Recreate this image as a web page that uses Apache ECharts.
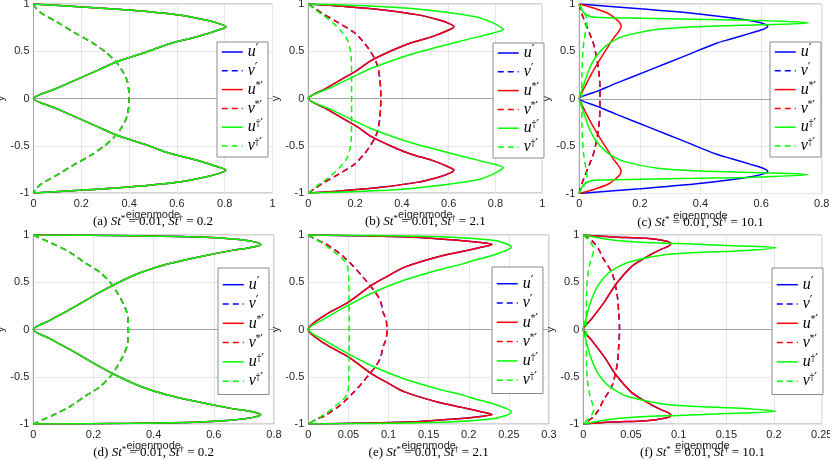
<!DOCTYPE html>
<html><head><meta charset="utf-8">
<script src="https://cdn.jsdelivr.net/npm/echarts@6/dist/echarts.min.js"></script>
<style>html,body{margin:0;padding:0;background:#fff}#c{width:830px;height:461px}</style>
</head><body><div id="c"></div>
<script>
// ---------- data ----------
const seriesNames = ['u′','v′','u*′','v*′','u†′','v†′'];
const seriesColors = ['#0000ff','#0000ff','#ff0000','#ff0000','#00ff00','#00ff00'];
const seriesDashed = [false,true,false,true,false,true];
const captionLetters = ['(a)','(b)','(c)','(d)','(e)','(f)'];
const stStar = ['0.01','0.01','0.01','0.01','0.01','0.01'];
const stDagger = ['0.2','2.1','10.1','0.2','2.1','10.1'];
const xMax = [1,1,0.8,0.8,0.3,0.25];
const xInterval = [0.2,0.2,0.2,0.2,0.05,0.05];
const yMin = -1, yMax = 1, yInterval = 0.5;

const A_u = [[0,1],[0.19,0.972],[0.4,0.936],[0.61,0.883],[0.72,0.83],[0.78,0.79],[0.805,0.76],[0.78,0.73],[0.68,0.65],[0.57,0.58],[0.47,0.49],[0.346,0.387],[0.27,0.3],[0.18,0.2],[0.09,0.1],[0,0],[0.09,-0.1],[0.18,-0.2],[0.27,-0.3],[0.346,-0.387],[0.47,-0.49],[0.57,-0.58],[0.68,-0.65],[0.78,-0.73],[0.805,-0.76],[0.78,-0.79],[0.72,-0.83],[0.61,-0.883],[0.4,-0.936],[0.19,-0.972],[0,-1]];
const A_v = [[0,1],[0.012,0.95],[0.035,0.9],[0.105,0.8],[0.17,0.7],[0.24,0.6],[0.297,0.5],[0.345,0.39],[0.37,0.3],[0.39,0.2],[0.398,0.1],[0.4,0],[0.398,-0.1],[0.39,-0.2],[0.37,-0.3],[0.345,-0.39],[0.297,-0.5],[0.24,-0.6],[0.17,-0.7],[0.105,-0.8],[0.035,-0.9],[0.012,-0.95],[0,-1]];

const B_r = [[0,1],[0.15,0.975],[0.31,0.94],[0.47,0.885],[0.56,0.83],[0.605,0.79],[0.622,0.76],[0.605,0.73],[0.53,0.655],[0.44,0.59],[0.36,0.51],[0.268,0.4],[0.21,0.3],[0.14,0.2],[0.07,0.1],[0,0],[0.07,-0.1],[0.14,-0.2],[0.21,-0.3],[0.268,-0.4],[0.36,-0.51],[0.44,-0.59],[0.53,-0.655],[0.605,-0.73],[0.622,-0.76],[0.605,-0.79],[0.56,-0.83],[0.47,-0.885],[0.31,-0.94],[0.15,-0.975],[0,-1]];
const B_g = [[0,1],[0.143,0.99],[0.43,0.954],[0.714,0.866],[0.79,0.8],[0.825,0.75],[0.833,0.73],[0.815,0.71],[0.786,0.69],[0.64,0.6],[0.43,0.46],[0.27,0.32],[0.193,0.232],[0.1,0.12],[0,0],[0.1,-0.12],[0.193,-0.232],[0.27,-0.32],[0.43,-0.46],[0.64,-0.6],[0.786,-0.69],[0.815,-0.71],[0.833,-0.73],[0.825,-0.75],[0.79,-0.8],[0.714,-0.866],[0.43,-0.954],[0.143,-0.99],[0,-1]];
const B_rv = [[0,1],[0.03,0.95],[0.06,0.9],[0.13,0.8],[0.195,0.7],[0.235,0.6],[0.265,0.5],[0.288,0.4],[0.3,0.3],[0.306,0.2],[0.309,0.1],[0.31,0],[0.309,-0.1],[0.306,-0.2],[0.3,-0.3],[0.288,-0.4],[0.265,-0.5],[0.235,-0.6],[0.195,-0.7],[0.13,-0.8],[0.06,-0.9],[0.03,-0.95],[0,-1]];
const B_gv = [[0,1],[0.035,0.93],[0.071,0.866],[0.105,0.8],[0.136,0.725],[0.164,0.637],[0.179,0.52],[0.184,0.4],[0.185,0.2],[0.185,0],[0.185,-0.2],[0.184,-0.4],[0.179,-0.52],[0.164,-0.637],[0.136,-0.725],[0.105,-0.8],[0.071,-0.866],[0.035,-0.93],[0,-1]];

const C_b = [[0,1],[0.2,0.95],[0.38,0.9],[0.5,0.855],[0.58,0.815],[0.61,0.79],[0.622,0.765],[0.615,0.745],[0.6,0.725],[0.563,0.69],[0.5,0.63],[0.453,0.586],[0.343,0.445],[0.233,0.305],[0.123,0.165],[0.06,0.08],[0,0],[0.06,-0.08],[0.123,-0.165],[0.233,-0.305],[0.343,-0.445],[0.453,-0.586],[0.5,-0.63],[0.563,-0.69],[0.6,-0.725],[0.615,-0.745],[0.622,-0.765],[0.61,-0.79],[0.58,-0.815],[0.5,-0.855],[0.38,-0.9],[0.2,-0.95],[0,-1]];
const C_r = [[0,1],[0.05,0.955],[0.096,0.9],[0.125,0.83],[0.135,0.795],[0.138,0.765],[0.134,0.73],[0.123,0.68],[0.113,0.64],[0.095,0.55],[0.075,0.45],[0.056,0.35],[0.038,0.25],[0.022,0.15],[0.008,0.06],[0,0],[0.008,-0.06],[0.022,-0.15],[0.038,-0.25],[0.056,-0.35],[0.075,-0.45],[0.095,-0.55],[0.113,-0.64],[0.123,-0.68],[0.134,-0.73],[0.138,-0.765],[0.135,-0.795],[0.125,-0.83],[0.096,-0.9],[0.05,-0.955],[0,-1]];
const C_g = [[0,1],[0.008,0.937],[0.024,0.884],[0.052,0.86],[0.206,0.85],[0.382,0.84],[0.6,0.825],[0.756,0.8],[0.6,0.78],[0.382,0.76],[0.26,0.733],[0.184,0.69],[0.129,0.64],[0.085,0.55],[0.052,0.43],[0.03,0.29],[0.013,0.13],[0,0],[0.013,-0.13],[0.03,-0.29],[0.052,-0.43],[0.085,-0.55],[0.129,-0.64],[0.184,-0.69],[0.26,-0.733],[0.382,-0.76],[0.6,-0.78],[0.756,-0.8],[0.6,-0.825],[0.382,-0.84],[0.206,-0.85],[0.052,-0.86],[0.024,-0.884],[0.008,-0.937],[0,-1]];
const C_rv = [[0,1],[0.003,0.95],[0.008,0.9],[0.02,0.8],[0.035,0.68],[0.045,0.6],[0.053,0.5],[0.059,0.4],[0.064,0.3],[0.067,0.2],[0.068,0.1],[0.068,0],[0.068,-0.1],[0.067,-0.2],[0.064,-0.3],[0.059,-0.4],[0.053,-0.5],[0.045,-0.6],[0.035,-0.68],[0.02,-0.8],[0.008,-0.9],[0.003,-0.95],[0,-1]];
const C_gv = [[0,1],[0.008,0.95],[0.018,0.9],[0.024,0.85],[0.025,0.8],[0.02,0.7],[0.015,0.6],[0.012,0.5],[0.009,0.3],[0.008,0],[0.009,-0.3],[0.012,-0.5],[0.015,-0.6],[0.02,-0.7],[0.025,-0.8],[0.024,-0.85],[0.018,-0.9],[0.008,-0.95],[0,-1]];

const D_u = [[0,1],[0.332,0.993],[0.554,0.979],[0.665,0.957],[0.731,0.93],[0.756,0.9],[0.735,0.875],[0.7,0.855],[0.665,0.84],[0.554,0.77],[0.443,0.69],[0.355,0.6],[0.285,0.5],[0.225,0.4],[0.17,0.3],[0.115,0.2],[0.057,0.1],[0,0],[0.057,-0.1],[0.115,-0.2],[0.17,-0.3],[0.225,-0.4],[0.285,-0.5],[0.355,-0.6],[0.443,-0.69],[0.554,-0.77],[0.665,-0.84],[0.7,-0.855],[0.735,-0.875],[0.756,-0.9],[0.731,-0.93],[0.665,-0.957],[0.554,-0.979],[0.332,-0.993],[0,-1]];
const D_v = [[0,1],[0.035,0.95],[0.07,0.9],[0.12,0.82],[0.175,0.7],[0.22,0.61],[0.255,0.5],[0.277,0.4],[0.295,0.3],[0.31,0.19],[0.315,0.1],[0.316,0],[0.315,-0.1],[0.31,-0.19],[0.295,-0.3],[0.277,-0.4],[0.255,-0.5],[0.22,-0.61],[0.175,-0.7],[0.12,-0.82],[0.07,-0.9],[0.035,-0.95],[0,-1]];

const E_r = [[0,1],[0.125,0.98],[0.183,0.947],[0.215,0.92],[0.229,0.9],[0.215,0.87],[0.195,0.83],[0.162,0.77],[0.12,0.66],[0.1,0.57],[0.079,0.47],[0.05,0.29],[0.021,0.152],[0,0],[0.021,-0.152],[0.05,-0.29],[0.079,-0.47],[0.1,-0.57],[0.12,-0.66],[0.162,-0.77],[0.195,-0.83],[0.215,-0.87],[0.229,-0.9],[0.215,-0.92],[0.183,-0.947],[0.125,-0.98],[0,-1]];
const E_g = [[0,1],[0.166,0.982],[0.228,0.947],[0.246,0.91],[0.253,0.87],[0.245,0.83],[0.228,0.78],[0.208,0.735],[0.195,0.7],[0.162,0.63],[0.12,0.523],[0.083,0.4],[0.05,0.258],[0.021,0.117],[0,0],[0.021,-0.117],[0.05,-0.258],[0.083,-0.4],[0.12,-0.523],[0.162,-0.63],[0.195,-0.7],[0.208,-0.735],[0.228,-0.78],[0.245,-0.83],[0.253,-0.87],[0.246,-0.91],[0.228,-0.947],[0.166,-0.982],[0,-1]];
const E_rv = [[0,1],[0.01,0.95],[0.021,0.91],[0.04,0.8],[0.046,0.753],[0.056,0.67],[0.066,0.576],[0.083,0.4],[0.09,0.3],[0.093,0.187],[0.097,0.1],[0.098,0],[0.097,-0.1],[0.093,-0.187],[0.09,-0.3],[0.083,-0.4],[0.066,-0.576],[0.056,-0.67],[0.046,-0.753],[0.04,-0.8],[0.021,-0.91],[0.01,-0.95],[0,-1]];
const E_gv = [[0,1],[0.01,0.95],[0.021,0.894],[0.037,0.788],[0.046,0.717],[0.049,0.66],[0.05,0.611],[0.0505,0.5],[0.051,0],[0.0505,-0.5],[0.05,-0.611],[0.049,-0.66],[0.046,-0.717],[0.037,-0.788],[0.021,-0.894],[0.01,-0.95],[0,-1]];

const F_r = [[0,1],[0.03,0.98],[0.066,0.965],[0.085,0.94],[0.092,0.91],[0.089,0.88],[0.082,0.85],[0.072,0.8],[0.06,0.73],[0.05,0.66],[0.035,0.49],[0.022,0.29],[0.009,0.116],[0,0],[0.009,-0.116],[0.022,-0.29],[0.035,-0.49],[0.05,-0.66],[0.06,-0.73],[0.072,-0.8],[0.082,-0.85],[0.089,-0.88],[0.092,-0.91],[0.085,-0.94],[0.066,-0.965],[0.03,-0.98],[0,-1]];
const F_g = [[0,1],[0.031,0.947],[0.066,0.92],[0.1,0.91],[0.15,0.89],[0.202,0.866],[0.16,0.83],[0.12,0.815],[0.085,0.79],[0.05,0.72],[0.036,0.66],[0.024,0.575],[0.014,0.44],[0.007,0.27],[0.003,0.12],[0,0],[0.003,-0.12],[0.007,-0.27],[0.014,-0.44],[0.024,-0.575],[0.036,-0.66],[0.05,-0.72],[0.085,-0.79],[0.12,-0.815],[0.16,-0.83],[0.202,-0.866],[0.15,-0.89],[0.1,-0.91],[0.066,-0.92],[0.031,-0.947],[0,-1]];
const F_rv = [[0,1],[0.01,0.93],[0.016,0.85],[0.021,0.75],[0.03,0.6],[0.034,0.45],[0.036,0.33],[0.037,0.2],[0.038,0],[0.037,-0.2],[0.036,-0.33],[0.034,-0.45],[0.03,-0.6],[0.021,-0.75],[0.016,-0.85],[0.01,-0.93],[0,-1]];
const F_gv = [[0,1],[0.005,0.95],[0.009,0.9],[0.011,0.85],[0.01,0.8],[0.007,0.7],[0.005,0.6],[0.0035,0.4],[0.003,0],[0.0035,-0.4],[0.005,-0.6],[0.007,-0.7],[0.01,-0.8],[0.011,-0.85],[0.009,-0.9],[0.005,-0.95],[0,-1]];

// curves per panel, in legend order: u', v', u*', v*', u†', v†'
const panelCurves = [
  [A_u, A_v, A_u, A_v, A_u, A_v],
  [B_r, B_rv, B_r, B_rv, B_g, B_gv],
  [C_b, C_rv, C_r, C_rv, C_g, C_gv],
  [D_u, D_v, D_u, D_v, D_u, D_v],
  [E_r, E_rv, E_r, E_rv, E_g, E_gv],
  [F_r, F_rv, F_r, F_rv, F_g, F_gv]
];

// ---------- layout (positions only) ----------
const gridBoxes = [[33.5,4,239,189],[308.3,4,234,189],[579.3,4,242.4,189.5],[33.3,235,240.7,189],[308.3,235,240.7,189],[583.3,235,238.4,189]];
const legendPos = [[217,42],[493,43],[770,42],[218,268],[492,267],[772,268]];
const yNameGap = [22,24,20,22,24,24];

const legendRich = {
  i: {fontFamily: 'Liberation Serif', fontStyle: 'italic', fontSize: 16, lineHeight: 16, color: '#000'},
  p: {fontFamily: 'DejaVu Serif', fontSize: 12, lineHeight: 13, verticalAlign: 'top', color: '#000'},
  a: {fontFamily: 'DejaVu Serif', fontSize: 9, lineHeight: 10, verticalAlign: 'top', color: '#000'}
};
const legendLabel = {
  'u′': '{i|u}{p|′}', 'v′': '{i|v}{p|′}',
  'u*′': '{i|u}{a|*}{p|′}', 'v*′': '{i|v}{a|*}{p|′}',
  'u†′': '{i|u}{a|†}{p|′}', 'v†′': '{i|v}{a|†}{p|′}'
};

const grids = [], xAxes = [], yAxes = [], series = [], legends = [], graphics = [];
const axisColor = '#a6a6a6', tickText = '#262626';
for (let p = 0; p < 6; p++) {
  const g = gridBoxes[p];
  grids.push({left: g[0], top: g[1], width: g[2], height: g[3], show: true, borderColor: axisColor, borderWidth: 1, outerBoundsMode: 'none', containLabel: false});
  xAxes.push({
    gridIndex: p, type: 'value', min: 0, max: xMax[p], interval: xInterval[p],
    axisLine: {show: true, lineStyle: {color: axisColor}}, axisTick: {show: false},
    splitLine: {show: true, lineStyle: {color: '#e6e6e6', width: 1}},
    axisLabel: {fontSize: 11, color: tickText, margin: 5, fontFamily: 'Liberation Sans'},
    name: 'eigenmode', nameLocation: 'middle', nameGap: 13,
    nameTextStyle: {fontSize: 11, color: tickText, fontFamily: 'Liberation Sans'}
  });
  yAxes.push({
    gridIndex: p, type: 'value', min: yMin, max: yMax, interval: yInterval,
    axisLine: {show: true, lineStyle: {color: axisColor}}, axisTick: {show: false},
    splitLine: {show: true, lineStyle: {color: '#e6e6e6', width: 1}},
    axisLabel: {fontSize: 11, color: tickText, margin: 4, fontFamily: 'Liberation Sans'},
    name: 'y', nameLocation: 'middle', nameRotate: 90, nameGap: yNameGap[p],
    nameTextStyle: {fontSize: 11, color: tickText, fontFamily: 'Liberation Sans'}
  });
  for (let s = 0; s < 6; s++) {
    series.push({
      type: 'line', name: seriesNames[s], xAxisIndex: p, yAxisIndex: p,
      data: panelCurves[p][s], symbol: 'none', showSymbol: false, smooth: 0.3,
      silent: true, animation: false,
      lineStyle: {color: seriesColors[s], width: 1.5, type: seriesDashed[s] ? [6, 4] : 'solid'},
      itemStyle: {color: seriesColors[s]}, z: 2
    });
  }
  const top = p < 3;
  legends.push({
    left: legendPos[p][0], top: legendPos[p][1], orient: 'vertical',
    data: seriesNames, selectedMode: false,
    itemWidth: 21, itemHeight: 16, itemGap: top ? 2.8 : 3.3,
    padding: top ? [2, 5, 3, 4] : [8.7, 5, 5.3, 4],
    itemStyle: {opacity: 0, color: 'rgba(0,0,0,0)', borderWidth: 0},
    lineStyle: {width: 1.5},
    backgroundColor: '#fff', borderColor: '#8a8a8a', borderWidth: 1, borderRadius: 0,
    formatter: n => legendLabel[n],
    textStyle: {rich: legendRich, color: '#000', fontFamily: 'Liberation Serif', fontSize: 16}
  });
  const cx = g[0] + g[2] / 2;
  const cy = g[1] + g[3] + 29;
  graphics.push({
    type: 'text', x: cx, y: cy, silent: true,
    style: {
      text: captionLetters[p] + ' {i|St}{s|*} = ' + stStar[p] + ', {i|St}{s|†} = ' + stDagger[p],
      align: 'center', verticalAlign: 'middle',
      fontFamily: 'Liberation Serif', fontSize: 13, lineHeight: 15, fill: '#000',
      rich: {
        i: {fontFamily: 'Liberation Serif', fontStyle: 'italic', fontSize: 13, lineHeight: 15},
        s: {fontFamily: 'Liberation Serif', fontSize: 9, lineHeight: 11, verticalAlign: 'top'}
      }
    }
  });
}

const chart = echarts.init(document.getElementById('c'), null, {renderer: 'canvas'});
chart.setOption({
  animation: false, backgroundColor: '#fff',
  grid: grids, xAxis: xAxes, yAxis: yAxes, series: series, legend: legends, graphic: graphics
});
</script></body></html>
